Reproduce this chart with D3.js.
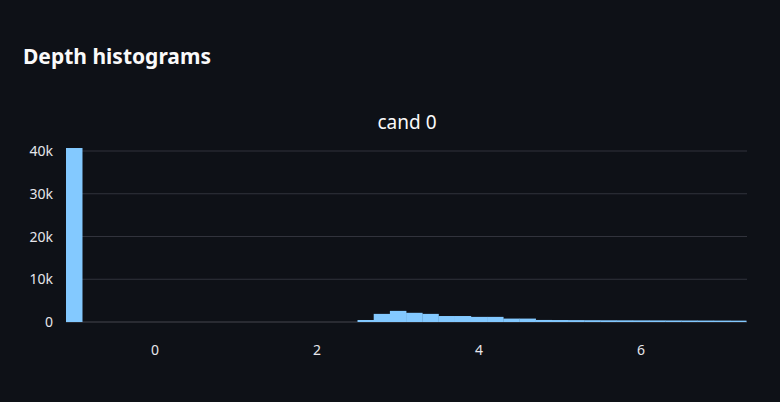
<!DOCTYPE html>
<html><head><meta charset="utf-8">
<script src="https://cdn.jsdelivr.net/npm/d3@7"></script>
<style>
body{margin:0;background:#0e1117;}
text{font-family:"Noto Sans","Open Sans",sans-serif;}
</style></head>
<body><div id="chart"></div>
<script>
// bin edges (start, end) and counts
const binStart = [-1.1, 2.5, 2.7, 2.9, 3.1, 3.3, 3.5, 3.7, 3.9, 4.1, 4.3, 4.5, 4.7, 4.9, 5.1, 5.3, 5.5, 5.7, 5.9, 6.1, 6.3, 6.5, 6.7, 6.9, 7.1];
const counts = [40700, 470, 1900, 2600, 2150, 1900, 1400, 1400, 1200, 1200, 800, 800, 480, 460, 440, 420, 400, 390, 380, 370, 360, 350, 340, 330, 320];
const binWidth = 0.2;
const xTicks = [0, 2, 4, 6];
const yTicks = [0, 10000, 20000, 30000, 40000];

const W = 780, H = 402;
const svg = d3.select('#chart').append('svg').attr('width', W).attr('height', H);

const x = d3.scaleLinear().domain([-1.1, 7.31]).range([66, 747]);
const y = d3.scaleLinear().domain([0, 40000]).range([322, 151]);

svg.append('text').attr('x', 23).attr('y', 64).attr('fill', '#fafafa')
  .attr('font-size', 21).attr('font-weight', 700).text('Depth histograms');
svg.append('text').attr('x', 407).attr('y', 129).attr('fill', '#fafafa')
  .attr('font-size', 19).attr('text-anchor', 'middle').text('cand 0');

// grid
svg.append('g').selectAll('line').data(yTicks).join('line')
  .attr('x1', 66).attr('x2', 747)
  .attr('y1', d => y(d)).attr('y2', d => y(d))
  .attr('stroke', d => d === 0 ? '#45474f' : '#31333c').attr('stroke-width', 1);

svg.append('g').selectAll('text').data(yTicks).join('text')
  .attr('x', 53).attr('y', d => y(d) + 5).attr('text-anchor', 'end')
  .attr('fill', '#e6e6eb').attr('font-size', 14)
  .text(d => d === 0 ? '0' : d3.format('~s')(d));

svg.append('g').selectAll('text').data(xTicks).join('text')
  .attr('x', d => x(d)).attr('y', 355).attr('text-anchor', 'middle')
  .attr('fill', '#e6e6eb').attr('font-size', 14).text(d => d);

// bars
svg.append('g').selectAll('rect').data(binStart).join('rect')
  .attr('x', d => x(d))
  .attr('width', (d, i) => x(d + binWidth) - x(d) + 0.3)
  .attr('y', (d, i) => y(counts[i]))
  .attr('height', (d, i) => y(0) - y(counts[i]))
  .attr('fill', '#83c9ff');
</script></body></html>
